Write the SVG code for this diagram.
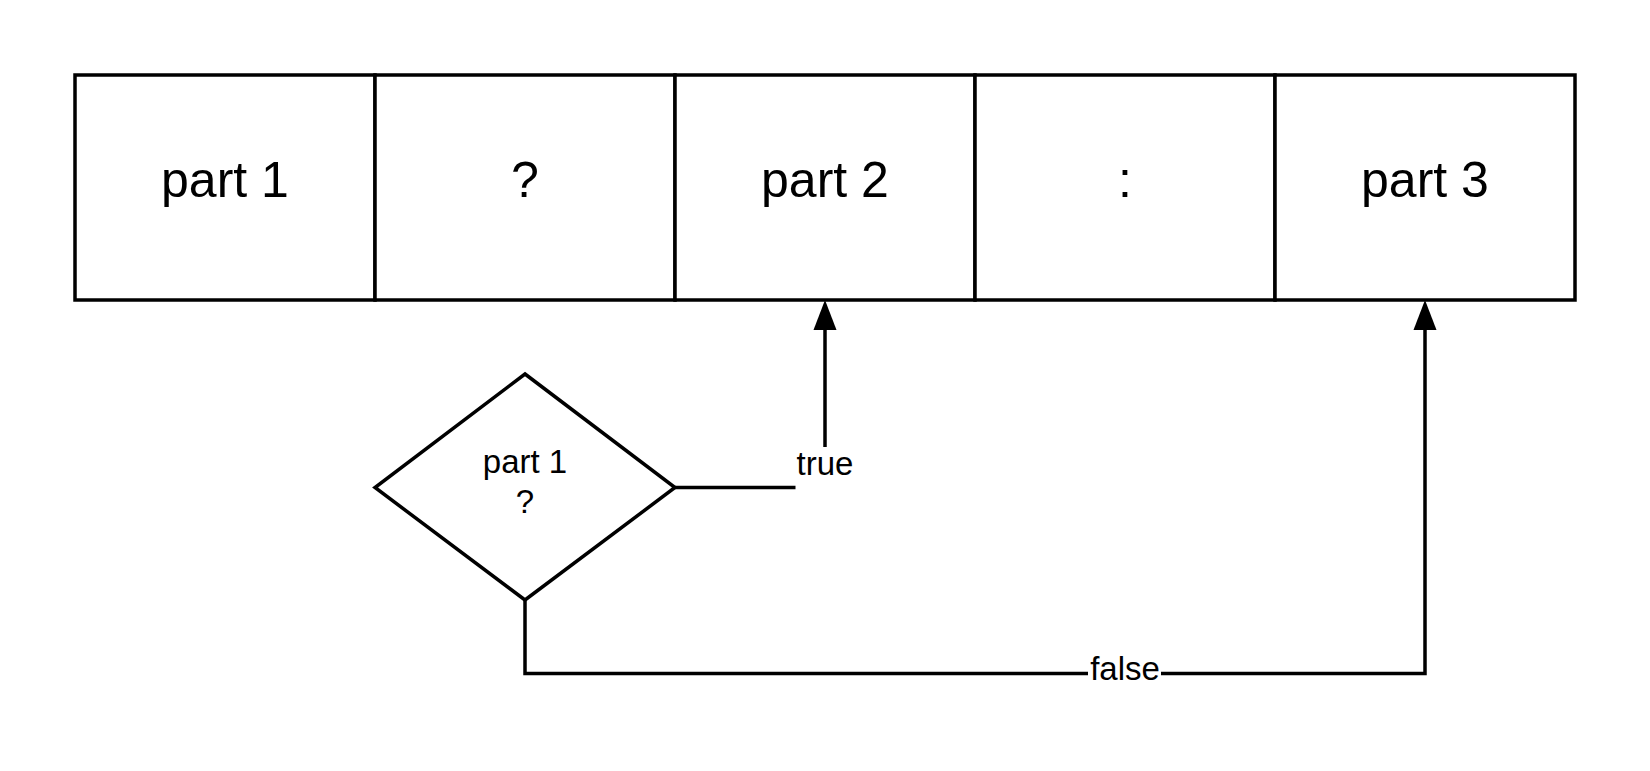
<svg xmlns="http://www.w3.org/2000/svg" width="1650" height="771" viewBox="0 0 1650 771">
  <style>
    .cell { fill: #ffffff; stroke: #000000; stroke-width: 3.5; }
    .big { font-family: "Liberation Sans", Arial, sans-serif; font-size: 50px; fill: #000000; text-anchor: middle; }
    .mid { font-family: "Liberation Sans", Arial, sans-serif; font-size: 33px; fill: #000000; text-anchor: middle; }
    .edge { fill: none; stroke: #000000; stroke-width: 3.5; }
    .head { fill: #000000; stroke: none; }
  </style>
  <rect x="0" y="0" width="1650" height="771" fill="#ffffff"/>
  <g id="cell-part1">
    <rect class="cell" x="75" y="75" width="300" height="225"/>
    <text class="big" x="225" y="197">part 1</text>
  </g>
  <g id="cell-question">
    <rect class="cell" x="375" y="75" width="300" height="225"/>
    <text class="big" x="525" y="197">?</text>
  </g>
  <g id="cell-part2">
    <rect class="cell" x="675" y="75" width="300" height="225"/>
    <text class="big" x="825" y="197">part 2</text>
  </g>
  <g id="cell-colon">
    <rect class="cell" x="975" y="75" width="300" height="225"/>
    <text class="big" x="1125" y="197">:</text>
  </g>
  <g id="cell-part3">
    <rect class="cell" x="1275" y="75" width="300" height="225"/>
    <text class="big" x="1425" y="197">part 3</text>
  </g>
  <g id="decision">
    <polygon class="cell" points="525,374 675,487.5 525,600 375,487.5"/>
    <text class="mid" x="525" y="473">part 1</text>
    <text class="mid" x="525" y="513">?</text>
  </g>
  <g id="connectors">
    <g id="edge-true">
      <polyline class="edge" points="675,487.5 795.5,487.5"/>
      <polyline class="edge" points="825,447 825,328"/>
      <polygon class="head" points="825,300 836.5,330 813.5,330"/>
      <text class="mid" x="825" y="475">true</text>
    </g>
    <g id="edge-false">
      <polyline class="edge" points="525,600 525,673.5 1088,673.5"/>
      <polyline class="edge" points="1161,673.5 1425,673.5 1425,328"/>
      <polygon class="head" points="1425,300 1436.5,330 1413.5,330"/>
      <text class="mid" x="1125" y="680">false</text>
    </g>
  </g>
</svg>
